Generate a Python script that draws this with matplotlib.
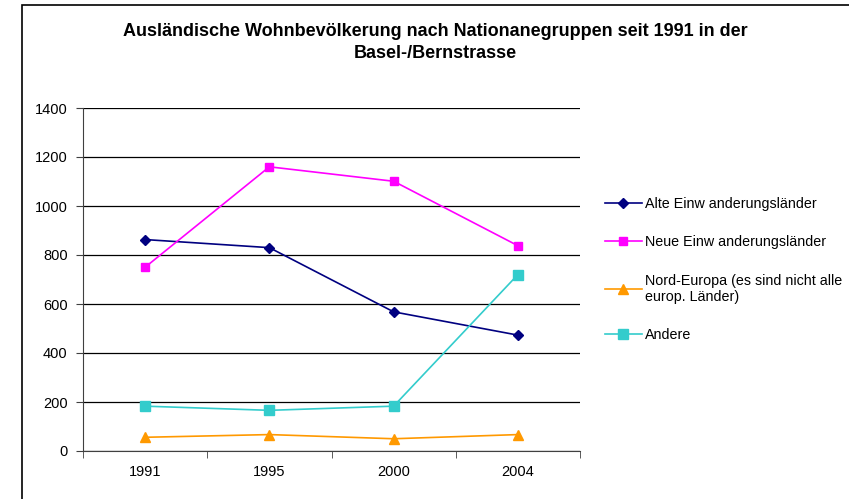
import matplotlib
matplotlib.use("Agg")
import matplotlib.pyplot as plt
from matplotlib.patches import Rectangle

# data
years = ["1991", "1995", "2000", "2004"]
alte = [863, 830, 568, 473]
neue = [750, 1160, 1101, 838]
nord = [56, 67, 50, 67]
andere = [183, 166, 183, 720]
labels = ["Alte Einw anderungsländer", "Neue Einw anderungsländer",
          "Nord-Europa (es sind nicht alle\neurop. Länder)", "Andere"]
yticks = [0, 200, 400, 600, 800, 1000, 1200, 1400]

plt.rcParams['font.family'] = ['Liberation Sans', 'DejaVu Sans']

fig = plt.figure(figsize=(8.49, 4.99), dpi=100)
W, H = 849, 499
ax = fig.add_axes([83 / W, 1 - 451 / H, (580 - 83) / W, (451 - 108) / H])

# outer chart frame (only left and top visible in reference)
fig.add_artist(Rectangle((22 / W, -0.1), 1.2, 1 - 5 / H + 0.1, transform=fig.transFigure,
                         fill=False, edgecolor="black", linewidth=1.2))

x = range(1, len(years) + 1)
ax.plot(x, alte, color="#000080", marker="D", markersize=5, linewidth=1.2, label=labels[0])
ax.plot(x, neue, color="#FF00FF", marker="s", markersize=5.5, linewidth=1.2, label=labels[1])
ax.plot(x, nord, color="#FF9900", marker="^", markersize=6.5, linewidth=1.2, label=labels[2])
ax.plot(x, andere, color="#33CCCC", marker="s", markersize=6.5, linewidth=1.2, label=labels[3])

ax.set_xlim(0.5, len(years) + 0.5)
ax.set_ylim(0, 1400)
ax.set_yticks(yticks)
ax.set_yticklabels([str(v) for v in yticks], fontsize=10.5)
ax.set_xticks(list(x))
ax.set_xticklabels(years, fontsize=10.5)
ax.set_xticks([i + 0.5 for i in range(len(years) + 1)], minor=True)
ax.tick_params(axis="x", which="major", length=0, pad=10)
ax.tick_params(axis="x", which="minor", length=5, direction="out", color="#404040")
ax.tick_params(axis="y", length=5, direction="out", color="#404040", pad=6)

ax.grid(axis="y", color="black", linewidth=0.9)
ax.set_axisbelow(True)
for s in ["top", "right"]:
    ax.spines[s].set_visible(False)
ax.spines["left"].set_color("#404040")
ax.spines["bottom"].set_color("#404040")

fig.text(435 / W, 1 - 32 / H, "Ausländische Wohnbevölkerung nach Nationanegruppen seit 1991 in der",
         ha="center", va="center", fontsize=13, fontweight="bold")
fig.text(435 / W, 1 - 53 / H, "Basel-/Bernstrasse",
         ha="center", va="center", fontsize=13, fontweight="bold")

fig.legend(loc="upper left", bbox_to_anchor=(592 / W, 1 - 184 / H), frameon=False,
           fontsize=10.3, handlelength=2.6, handletextpad=0.2, labelspacing=1.7)

fig.savefig("out.png", dpi=100)
